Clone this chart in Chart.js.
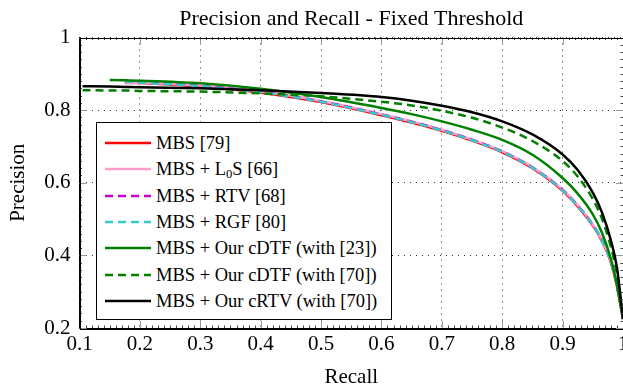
<!DOCTYPE html>
<html>
<head>
<meta charset="utf-8">
<script src="https://cdn.jsdelivr.net/npm/chart.js@4.4.0/dist/chart.umd.min.js"></script>
<style>
body { margin: 0; background: #fff; }
#wrap { position: relative; width: 623px; height: 388px; }
#legend { position: absolute; left: 96px; top: 122px; width: 296px; height: 198px; box-sizing: border-box;
  border: 1px solid #000; background: #fff; font-family: 'Liberation Serif', serif; font-size: 18.5px; color: #000; }
.row { position: absolute; left: 0; height: 24px; line-height: 24px; white-space: nowrap; }
.row svg { position: absolute; left: 8px; top: 7px; }
.row span { position: absolute; left: 59px; }
sub { font-size: 0.68em; vertical-align: -0.25em; line-height: 0; }
</style>
</head>
<body>
<div id="wrap">
  <canvas id="pr" width="623" height="388"></canvas>
  <div id="legend"></div>
</div>
<script>
// recall values shared by every curve (null = curve not started yet)
const recall = [0.105, 0.15, 0.175, 0.2, 0.3, 0.4, 0.5, 0.6, 0.65, 0.7, 0.75, 0.8, 0.85, 0.9, 0.925, 0.95, 0.965, 0.98, 0.99, 1.0];

const mbs    = [null, null, 0.877, 0.875, 0.865, 0.848, 0.822, 0.786, 0.766, 0.743, 0.716, 0.684, 0.640, 0.578, 0.535, 0.482, 0.440, 0.380, 0.315, 0.225];
const mbsL0S = [null, null, 0.873, 0.875, 0.868, 0.851, 0.825, 0.789, 0.769, 0.746, 0.719, 0.687, 0.643, 0.581, 0.538, 0.485, 0.443, 0.383, 0.318, 0.225];
const mbsRTV = [null, null, 0.880, 0.877, 0.867, 0.850, 0.824, 0.788, 0.768, 0.745, 0.718, 0.686, 0.642, 0.580, 0.537, 0.484, 0.442, 0.382, 0.317, 0.225];
const mbsRGF = [null, null, 0.879, 0.876, 0.866, 0.849, 0.823, 0.787, 0.767, 0.744, 0.717, 0.685, 0.641, 0.579, 0.536, 0.483, 0.441, 0.381, 0.316, 0.225];
const cdtf23 = [null, 0.883, 0.882, 0.881, 0.874, 0.859, 0.836, 0.806, 0.789, 0.769, 0.746, 0.718, 0.677, 0.613, 0.570, 0.513, 0.463, 0.390, 0.318, 0.225];
const cdtf70 = [0.855, 0.854, 0.854, 0.853, 0.851, 0.846, 0.838, 0.823, 0.813, 0.798, 0.779, 0.752, 0.715, 0.660, 0.617, 0.555, 0.502, 0.423, 0.348, 0.225];
const crtv70 = [0.866, 0.865, 0.864, 0.863, 0.860, 0.855, 0.847, 0.836, 0.826, 0.812, 0.794, 0.769, 0.733, 0.678, 0.635, 0.573, 0.519, 0.441, 0.366, 0.225];

const seriesLabels = ['MBS [79]', 'MBS + L<sub>0</sub>S [66]', 'MBS + RTV [68]', 'MBS + RGF [80]',
  'MBS + Our cDTF (with [23])', 'MBS + Our cDTF (with [70])', 'MBS + Our cRTV (with [70])'];
const seriesValues = [mbs, mbsL0S, mbsRTV, mbsRGF, cdtf23, cdtf70, crtv70];
const seriesColors = ['#ff0000', '#ff9ccc', '#cc00cc', '#33cccc', '#008000', '#008000', '#000000'];
const seriesDash = [[], [], [8, 5], [8, 5], [], [8, 5], []];

const serif = 'Liberation Serif';

function points(vals) {
    return recall.map((r, i) => ({x: r, y: vals[i]})).filter(p => p.y !== null);
}

const datasets = seriesValues.map((vals, i) => ({
    label: seriesLabels[i].replace(/<\/?sub>/g, ''),
    data: points(vals),
    borderColor: seriesColors[i],
    borderDash: seriesDash[i],
    borderWidth: 2.5,
    pointRadius: 0,
    fill: false,
    cubicInterpolationMode: 'monotone',
    order: seriesValues.length - i
}));

// box round the plot plus the little inward ticks
const frame = {
    id: 'frame',
    afterDatasetsDraw(chart) {
        const {ctx, chartArea: a, scales: {x, y}} = chart;
        ctx.save();
        ctx.lineWidth = 1;
        for (let i = 10; i <= 100; i++) {
            const px = Math.round(x.getPixelForValue(i / 100)) + 0.5;
            const major = i % 10 === 0;
            const len = major ? 7 : 2.5;
            ctx.strokeStyle = major ? '#999' : '#444';
            ctx.beginPath();
            ctx.moveTo(px, a.bottom); ctx.lineTo(px, a.bottom - len);
            ctx.moveTo(px, a.top); ctx.lineTo(px, a.top + len);
            ctx.stroke();
        }
        for (let j = 10; j <= 50; j++) {
            const py = Math.round(y.getPixelForValue(j / 50)) + 0.5;
            const major = j % 10 === 0;
            const len = major ? 7 : 2.5;
            ctx.strokeStyle = major ? '#999' : '#444';
            ctx.beginPath();
            ctx.moveTo(a.left, py); ctx.lineTo(a.left + len, py);
            ctx.moveTo(a.right, py); ctx.lineTo(a.right - len, py);
            ctx.stroke();
        }
        ctx.strokeStyle = '#000';
        ctx.strokeRect(Math.round(a.left) + 0.5, Math.round(a.top) + 0.5,
            Math.round(a.right - a.left) - 1, Math.round(a.bottom - a.top));
        ctx.restore();
    }
};

const tickText = v => (Math.abs(v - 1) < 1e-9 ? '1' : v.toFixed(1));

const ctx = document.getElementById('pr').getContext('2d');
const prChart = new Chart(ctx, {
    type: 'line',
    data: {datasets: datasets},
    options: {
        responsive: false,
        animation: false,
        layout: {padding: 0},
        plugins: {
            legend: {display: false},
            tooltip: {enabled: false}
        },
        scales: {
            x: {
                type: 'linear',
                min: 0.1,
                max: 1,
                ticks: {stepSize: 0.1, color: '#000', padding: 4, maxRotation: 0,
                    font: {family: serif, size: 21}, callback: tickText},
                grid: {color: '#333', lineWidth: 1, drawTicks: false},
                border: {display: true, color: '#000', width: 1, dash: [1, 5]},
                title: {display: true, text: 'Recall', color: '#000',
                    font: {family: serif, size: 21, lineHeight: 1}, padding: {top: 0, bottom: 0}},
                afterFit(scale) { scale.height = 60; scale.paddingLeft = 0; scale.paddingRight = 0; }
            },
            // top axis only carries the chart title, centred over the plot
            top: {
                type: 'linear',
                position: 'top',
                min: 0.1,
                max: 1,
                ticks: {display: false},
                grid: {display: false, drawTicks: false},
                border: {display: false},
                title: {display: true, text: 'Precision and Recall - Fixed Threshold', color: '#000',
                    font: {family: serif, size: 22, lineHeight: 1.2}, padding: {top: 6, bottom: 0}},
                afterFit(scale) { scale.height = 37.5; scale.paddingLeft = 0; scale.paddingRight = 0; }
            },
            y: {
                min: 0.2,
                max: 1,
                ticks: {stepSize: 0.2, color: '#000', padding: 9,
                    font: {family: serif, size: 21}, callback: tickText},
                grid: {color: '#333', lineWidth: 1, drawTicks: false},
                border: {display: true, color: '#000', width: 1, dash: [1, 5]},
                title: {display: true, text: 'Precision', color: '#000',
                    font: {family: serif, size: 21, lineHeight: 1}, padding: {top: 8, bottom: 0}},
                afterFit(scale) { scale.width = 79.5; scale.paddingTop = 0; scale.paddingBottom = 0; }
            }
        }
    },
    plugins: [frame]
});

// legend box inside the plot, built from the datasets
const legendBox = document.getElementById('legend');
prChart.data.datasets.forEach((ds, i) => {
    const row = document.createElement('div');
    row.className = 'row';
    row.style.top = (8 + i * 26.3) + 'px';
    const dash = ds.borderDash.length ? ' stroke-dasharray="' + ds.borderDash.join(' ') + '"' : '';
    row.innerHTML = '<svg width="46" height="10"><line x1="0" y1="5" x2="46" y2="5" stroke="' + ds.borderColor +
        '" stroke-width="2.5"' + dash + '/></svg><span>' + seriesLabels[i] + '</span>';
    legendBox.appendChild(row);
});
</script>
</body>
</html>
